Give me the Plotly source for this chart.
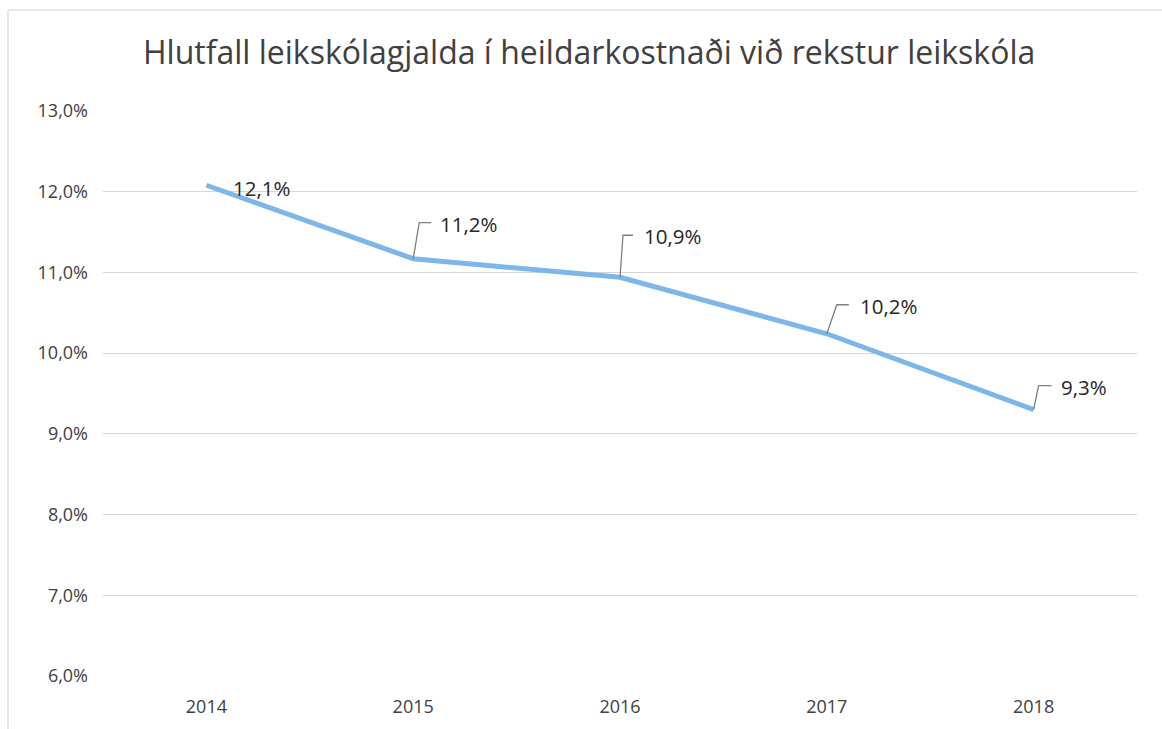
import plotly.graph_objects as go

years = ["2014", "2015", "2016", "2017", "2018"]
share = [12.08, 11.17, 10.94, 10.24, 9.30]

# label placement (pixel offsets from each point) and leader-line geometry
label_dx = [25, 25, 22, 31, 25]
label_dy = [-3, 35, 41, 28, 23]
leader_corner = [None, (6, 36), (3, 42), (10, 29), (5, 24)]
leader_end = [None, 18, 13, 22, 18]

title_text = "Hlutfall leikskólagjalda í heildarkostnaði við rekstur leikskóla"
y_ticks = [6, 7, 8, 9, 10, 11, 12, 13]


def pct(v):
    return f"{v:.1f}".replace(".", ",") + "%"


W, H = 1162, 729
ML, MR, MT, MB = 103, 25, 111, 53
FONT = "Open Sans, Lato, sans-serif"
TXT = "#404040"

xpos = list(range(len(years)))

fig = go.Figure()
fig.add_trace(go.Scatter(
    x=xpos, y=share, mode="lines",
    line=dict(color="#7DB6E8", width=5),
    hoverinfo="skip", showlegend=False,
))

for xi, v, dx, dy, corner, end in zip(xpos, share, label_dx, label_dy,
                                      leader_corner, leader_end):
    fig.add_annotation(
        x=xi, y=v, xref="x", yref="y", text=pct(v),
        xanchor="left", yanchor="middle", showarrow=False,
        xshift=dx, yshift=dy,
        font=dict(family=FONT, size=20.5, color="#262626"),
    )
    if corner is not None:
        cx, cy = corner
        fig.add_shape(
            type="path", xref="x", yref="y",
            xsizemode="pixel", ysizemode="pixel", xanchor=xi, yanchor=v,
            path=f"M0,0 L{cx},{cy} L{end},{cy}",
            line=dict(color="#7F7F7F", width=1.3),
        )

pw = W - ML - MR
ph = H - MT - MB
fig.add_shape(
    type="rect", xref="paper", yref="paper",
    x0=(8 - ML) / pw, x1=(W + 5 - ML) / pw,
    y0=-(H + 5 - MT - ph) / ph, y1=1 + (MT - 10) / ph,
    line=dict(color="#D0D0D0", width=1), layer="below",
)

fig.update_layout(
    width=W, height=H,
    margin=dict(l=ML, r=MR, t=MT, b=MB),
    paper_bgcolor="white", plot_bgcolor="white",
    title=dict(
        text=title_text, x=0.507, xanchor="center",
        y=1 - 53 / H, yanchor="middle", yref="container",
        font=dict(family=FONT, size=32, color=TXT),
    ),
    xaxis=dict(
        range=[-0.5, 4.5], tickmode="array", tickvals=xpos, ticktext=years,
        showgrid=False, showline=False, zeroline=False,
        ticks="", ticklabelstandoff=18,
        tickfont=dict(family=FONT, size=18, color=TXT),
    ),
    yaxis=dict(
        range=[6, 13], tickmode="array", tickvals=y_ticks,
        ticktext=[pct(t) for t in y_ticks],
        showgrid=True, gridcolor="#D6D6D6", gridwidth=1,
        zeroline=False, showline=False, ticks="", ticklabelstandoff=14,
        tickfont=dict(family=FONT, size=18, color=TXT),
    ),
)

fig.write_html("out.html", post_script="document.body.style.margin='0';",
               config={"displayModeBar": False})
